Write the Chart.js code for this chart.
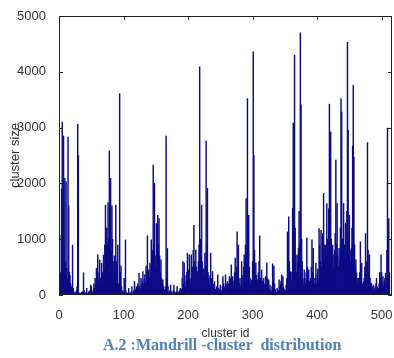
<!DOCTYPE html>
<html>
<head>
<meta charset="UTF-8">
<title>Mandrill cluster distribution</title>
<script src="https://cdn.jsdelivr.net/npm/chart.js"></script>
<style>
    body { margin: 0; background: #fff; }
    .wrap { position: relative; width: 394px; height: 358px; }
    .caption {
        position: absolute;
        left: 103px;
        top: 336px;
        font-family: "Liberation Serif", "DejaVu Serif", serif;
        font-weight: bold;
        font-size: 16px;
        color: #4f81bd;
        white-space: pre;
    }
</style>
</head>
<body>
<div class="wrap">
    <canvas id="clusterChart" width="394" height="358"></canvas>
    <div class="caption">A.2 :Mandrill -cluster  distribution</div>
</div>

<script>
    // cluster size per cluster id (1..512)
    const clusterSizes = [
        1070,400,300,1900,3100,1500,2850,900,2090,600,
        2030,480,300,2830,1600,410,350,200,150,100,
        895,120,60,40,30,50,80,150,3060,2500,
        40,20,30,20,50,30,60,400,80,30,
        20,50,120,30,20,60,40,80,180,150,
        60,30,90,200,120,300,200,480,350,720,
        250,400,630,300,180,570,400,250,716,500,
        900,1610,700,1200,900,1650,1000,2580,1500,2090,
        800,1600,1000,600,400,700,500,1610,600,300,
        895,200,150,3610,400,520,150,80,60,40,
        300,150,985,60,40,30,20,120,40,30,
        20,60,150,40,30,80,240,100,60,150,
        80,200,120,390,150,100,300,180,250,420,
        200,280,360,220,520,400,1060,350,450,300,
        570,400,990,600,800,2330,900,2000,700,500,
        1280,800,1430,900,1370,700,400,630,300,200,
        270,150,100,80,150,2850,300,835,150,60,
        40,80,180,60,40,30,80,180,60,40,
        30,60,150,40,30,60,80,120,50,100,
        300,600,200,570,350,150,250,400,750,300,
        450,720,300,200,720,400,500,800,1250,600,
        400,805,500,300,420,600,900,4090,1000,700,
        1610,600,300,470,350,750,500,2760,900,1910,
        400,300,200,350,750,300,150,420,200,100,
        240,100,60,150,80,360,120,60,100,180,
        80,60,150,330,200,100,150,360,200,120,
        240,150,200,330,250,300,540,200,330,150,
        250,400,660,300,500,1130,400,895,300,200,
        150,300,600,200,350,500,720,600,900,1730,
        700,3520,1200,1430,500,300,200,270,180,600,
        4360,2500,800,300,570,350,200,270,400,600,
        1060,300,200,450,250,150,300,200,100,330,
        200,570,300,150,270,100,180,80,60,150,
        560,250,520,200,100,60,40,120,60,80,
        270,150,200,250,360,200,330,150,100,60,
        80,180,300,1130,500,1400,600,300,420,250,
        400,1550,3080,800,4300,1200,700,400,720,600,
        835,1500,900,4700,3410,1000,600,300,200,450,
        300,200,400,1020,500,300,450,250,150,300,
        500,990,400,835,300,200,300,570,200,360,
        470,300,1190,895,600,1160,500,1100,700,1820,
        900,600,895,700,1640,1000,600,1550,3420,1200,
        2920,1000,600,895,500,720,800,1100,2420,900,
        1640,700,500,835,600,1200,3520,3280,1000,800,
        1640,900,700,1290,800,1500,4530,2950,1000,1430,
        800,600,835,1200,2670,3760,2470,900,500,630,
        400,300,200,300,150,400,955,300,570,200,
        150,240,300,500,1100,400,600,2730,800,400,
        720,300,200,210,150,100,180,120,80,150,
        200,300,150,80,120,200,400,300,720,400,
        200,330,150,250,300,390,200,800,2990,1000,1370,400
    ];
    const xTicks = [0, 100, 200, 300, 400, 500];
    const yTicks = [0, 1000, 2000, 3000, 4000, 5000];

    const tickFont = { family: "'Liberation Sans', Arial, sans-serif", size: 13 };

    // matlab style box with inward ticks
    const boxPlugin = {
        id: 'box',
        afterDraw(chart) {
            const { ctx, chartArea: a, scales } = chart;
            ctx.save();
            ctx.strokeStyle = '#222';
            ctx.lineWidth = 1;
            ctx.strokeRect(a.left + 0.5, a.top + 0.5, a.right - a.left - 1, a.bottom - a.top - 1);
            ctx.beginPath();
            xTicks.forEach(t => {
                const px = Math.round(scales.x.getPixelForValue(t)) + 0.5;
                ctx.moveTo(px, a.bottom); ctx.lineTo(px, a.bottom - 4);
                ctx.moveTo(px, a.top); ctx.lineTo(px, a.top + 4);
            });
            yTicks.forEach(t => {
                const py = Math.round(scales.y.getPixelForValue(t)) + 0.5;
                ctx.moveTo(a.left, py); ctx.lineTo(a.left + 4, py);
                ctx.moveTo(a.right, py); ctx.lineTo(a.right - 4, py);
            });
            ctx.stroke();
            ctx.restore();
        }
    };

    const ctx = document.getElementById('clusterChart').getContext('2d');
    new Chart(ctx, {
        type: 'bar',
        data: {
            datasets: [{
                data: clusterSizes.map((v, i) => ({ x: i + 1, y: v })),
                backgroundColor: 'rgb(12,12,135)',
                borderWidth: 0,
                barThickness: 0.8
            }]
        },
        options: {
            responsive: false,
            animation: false,
            layout: { padding: { top: 16, right: 2, left: 0, bottom: 0 } },
            plugins: { legend: { display: false }, tooltip: { enabled: false } },
            scales: {
                x: {
                    type: 'linear',
                    min: 0,
                    max: 516,
                    offset: false,
                    grid: { display: false },
                    border: { display: false },
                    ticks: {
                        stepSize: 100, includeBounds: false, padding: 5, maxRotation: 0,
                        color: '#333', font: tickFont,
                        callback: v => String(v)
                    },
                    title: {
                        display: true,
                        text: 'cluster id',
                        color: '#333',
                        font: { family: "'Liberation Sans', Arial, sans-serif", size: 12 },
                        padding: { top: 0, bottom: 17 }
                    },
                    afterFit: s => { s.height = 63; s.paddingLeft = 0; s.paddingRight = 0; }
                },
                y: {
                    min: 0,
                    max: 5000,
                    grid: { display: false },
                    border: { display: false },
                    ticks: {
                        stepSize: 1000, includeBounds: false, padding: 5,
                        color: '#333', font: tickFont,
                        callback: v => String(v)
                    },
                    title: {
                        display: true,
                        text: 'cluster size',
                        color: '#333',
                        font: { family: "'Liberation Sans', Arial, sans-serif", size: 13 },
                        padding: { top: 8, bottom: 0 }
                    },
                    afterFit: s => { s.width = 59; s.paddingTop = 0; s.paddingBottom = 0; }
                }
            }
        },
        plugins: [boxPlugin]
    });
</script>
</body>
</html>
